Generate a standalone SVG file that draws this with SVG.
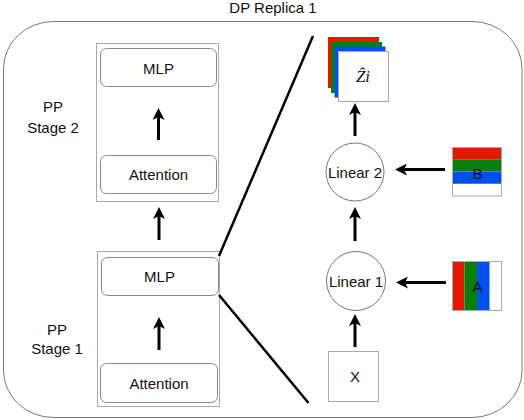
<svg xmlns="http://www.w3.org/2000/svg" width="524" height="420" viewBox="0 0 524 420">
<defs>
<style>
text{font-family:"Liberation Sans",Arial,sans-serif;font-size:15px;fill:#111;text-anchor:middle}
.stage{fill:#fff;stroke:#aaa;stroke-width:1}
.blk{fill:#fff;stroke:#888;stroke-width:1}
.circ{fill:#fff;stroke:#777;stroke-width:1}
.sq{fill:#fff;stroke:#aaa;stroke-width:1}
.arr{stroke:#000;stroke-width:3;fill:none;marker-end:url(#ah)}
.diag{stroke:#000;stroke-width:2.5;fill:none}
.r{fill:#e41a00}.g{fill:#0a800a}.b{fill:#0050f0}
</style>
<marker id="ah" viewBox="0 0 12 12" refX="3" refY="6" markerWidth="12" markerHeight="12" markerUnits="userSpaceOnUse" orient="auto">
<path d="M0,0 L12,6 L0,12 L3,6 z" fill="#000"/>
</marker>
</defs>
<rect x="0" y="0" width="524" height="420" fill="#fff"/>
<g id="replica">
<rect x="3.5" y="21.5" width="518.5" height="396" rx="50" ry="47" fill="none" stroke="#777"/>
<text x="273" y="13">DP Replica 1</text>
</g>
<g id="stage2">
<rect class="stage" x="96.5" y="43.5" width="122" height="158"/>
<text x="53" y="112">PP</text>
<text x="53" y="133">Stage 2</text>
</g>
<g id="mlp2"><rect class="blk" x="100.5" y="48.5" width="116" height="38" rx="6"/><text x="158.5" y="74">MLP</text></g>
<g id="attn2"><rect class="blk" x="100.5" y="155.5" width="116" height="38" rx="6"/><text x="158.5" y="180">Attention</text></g>
<g id="stage1">
<rect class="stage" x="97.5" y="251.5" width="122" height="155"/>
<text x="57" y="335">PP</text>
<text x="57" y="354">Stage 1</text>
</g>
<g id="mlp1"><rect class="blk" x="101.5" y="257.5" width="117" height="38" rx="6"/><text x="159.5" y="282">MLP</text></g>
<g id="attn1"><rect class="blk" x="100.5" y="363.5" width="117" height="39" rx="6"/><text x="159" y="389">Attention</text></g>
<g id="zhat">
<rect class="r" x="328" y="37" width="51" height="51"/>
<rect class="g" x="331" y="42" width="51" height="51"/>
<rect class="b" x="334.5" y="46.5" width="51" height="51"/>
<rect class="sq" x="338.5" y="51.5" width="50" height="50"/>
<text x="363" y="82" style="font-family:'Liberation Serif','Times New Roman',serif;font-style:italic;font-size:17px">Ẑi</text>
</g>
<g id="linear2"><circle class="circ" cx="355" cy="172" r="29"/><text x="355" y="177.5">Linear 2</text></g>
<g id="B">
<rect class="r" x="452" y="147" width="50" height="12.25"/>
<rect class="g" x="452" y="159.25" width="50" height="12.25"/>
<rect class="b" x="452" y="171.5" width="50" height="12.25"/>
<rect x="452.5" y="147.5" width="49" height="48.5" fill="none" stroke="#aaa"/>
<text x="477.5" y="178.5">B</text>
</g>
<g id="linear1"><circle class="circ" cx="356" cy="281" r="29.5"/><text x="356" y="287">Linear 1</text></g>
<g id="A">
<rect class="r" x="452" y="261" width="12.5" height="50"/>
<rect class="g" x="464.5" y="261" width="12.5" height="50"/>
<rect class="b" x="477" y="261" width="12.5" height="50"/>
<rect x="452.5" y="261.5" width="49" height="49" fill="none" stroke="#aaa"/>
<text x="477.5" y="291.5">A</text>
</g>
<g id="X"><rect class="sq" x="328.5" y="351.5" width="50" height="50"/><text x="355" y="382">X</text></g>
<g id="connectors">
<line class="arr" x1="158.5" y1="140" x2="158.5" y2="117"/>
<line class="arr" x1="159" y1="240" x2="159" y2="216"/>
<line class="arr" x1="159" y1="350" x2="159" y2="326"/>
<line class="diag" x1="219" y1="256" x2="313" y2="36"/>
<line class="diag" x1="219" y1="295" x2="308.5" y2="403"/>
<line class="arr" x1="355" y1="136" x2="355" y2="112"/>
<line class="arr" x1="445" y1="169.5" x2="404" y2="169.5"/>
<line class="arr" x1="355" y1="241" x2="355" y2="216"/>
<line class="arr" x1="446" y1="282.5" x2="405" y2="282.5"/>
<line class="arr" x1="355" y1="347" x2="355" y2="323"/>
</g>
</svg>
